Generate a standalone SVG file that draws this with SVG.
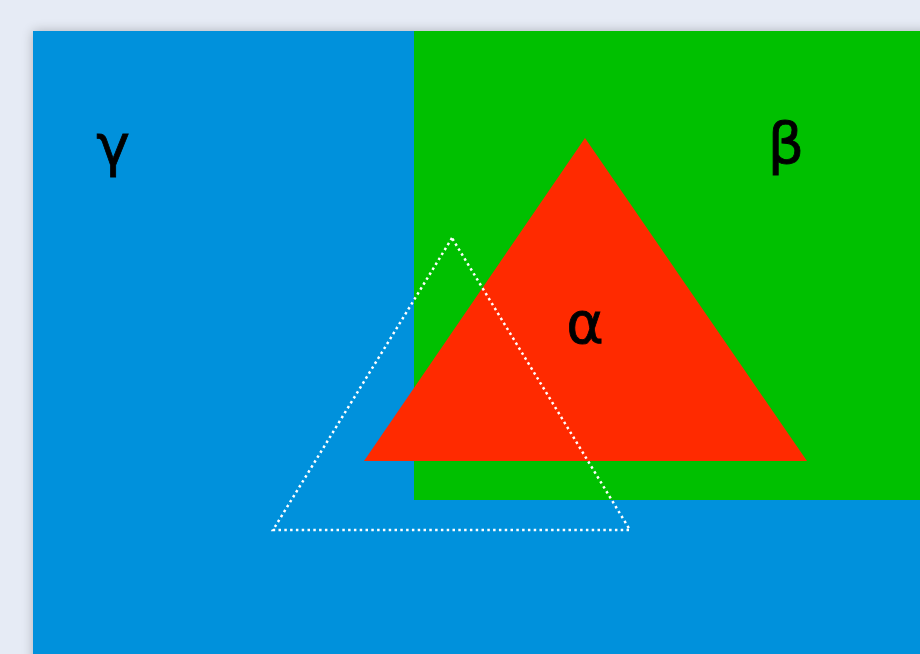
<svg xmlns="http://www.w3.org/2000/svg" width="920" height="654" viewBox="0 0 920 654">
  <defs>
    <filter id="shadow" x="-10%" y="-10%" width="120%" height="120%">
      <feGaussianBlur in="SourceAlpha" stdDeviation="6"/>
      <feOffset dx="0" dy="0"/>
      <feComponentTransfer><feFuncA type="linear" slope="0.25"/></feComponentTransfer>
      <feMerge><feMergeNode/><feMergeNode in="SourceGraphic"/></feMerge>
    </filter>
    <style>
      .lbl { font-family: "DejaVu Sans", "Liberation Sans", sans-serif; font-size: 57px; fill: #000; text-anchor: middle; stroke: #000; stroke-width: 0.8; }
    </style>
  </defs>
  <rect x="0" y="0" width="920" height="654" fill="#e6ebf5"/>
  <g id="gamma">
    <rect x="33" y="31" width="900" height="640" fill="#0091dc" filter="url(#shadow)"/>
    <text class="lbl" x="113" y="165">γ</text>
  </g>
  <g id="beta">
    <rect x="414" y="31" width="510" height="469" fill="#00c000"/>
    <text class="lbl" x="786" y="163">β</text>
  </g>
  <g id="alpha">
    <polygon points="585,138 364,461 807,461" fill="#ff2a00"/>
    <text class="lbl" x="585" y="343">α</text>
  </g>
  <g id="connectors">
    <polygon points="452,238 273,530 630,530" fill="none" stroke="#ffffff" stroke-width="2.5" stroke-dasharray="2.5 3.3"/>
  </g>
</svg>
